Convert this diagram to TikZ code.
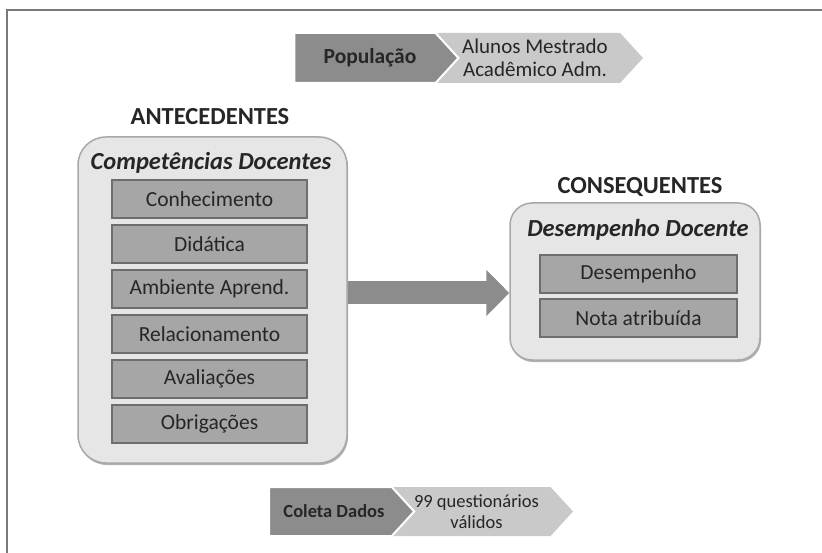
\documentclass[tikz,border=0pt]{standalone}
\usepackage{fontspec}
\setmainfont{Carlito}
\usepackage{tikz}
\usetikzlibrary{shapes.symbols,arrows.meta,shadows}

\definecolor{moldura}{HTML}{7A7A7A}
\definecolor{grupofundo}{HTML}{E6E6E6}
\definecolor{grupoborda}{HTML}{A8A8A8}
\definecolor{itemfundo}{HTML}{A6A6A6}
\definecolor{itemborda}{HTML}{6E6E6E}
\definecolor{escuro}{HTML}{8C8C8C}
\definecolor{claro}{HTML}{C9C9C9}
\definecolor{texto}{HTML}{262626}

\begin{document}
\begin{tikzpicture}[x=1pt,y=-1pt,
  grupo/.style={draw=grupoborda,line width=1.5pt,fill=grupofundo,
    drop shadow={shadow xshift=1pt,shadow yshift=-2pt,opacity=.3,fill=black}},
  item/.style={draw=itemborda,fill=itemfundo,line width=1.5pt,inner sep=0pt,
    minimum height=38pt,text=texto,font=\fontsize{21.5}{24}\selectfont},
  titulo/.style={text=texto,font=\bfseries\fontsize{24.5}{28}\selectfont},
  subtitulo/.style={text=texto,font=\bfseries\itshape\fontsize{24.5}{28}\selectfont},
  chevescuro/.style={shape=signal,signal to=east,signal pointer angle=95,
    fill=escuro,draw=white,line width=2pt,inner sep=0pt},
  chevclaro/.style={shape=signal,signal from=west,signal to=east,signal pointer angle=95,
    fill=claro,inner sep=0pt},
  rotulo/.style={text=texto,align=center,inner sep=0pt}
]

\useasboundingbox (0,0) rectangle (822,553);

% moldura
\draw[moldura,line width=2pt] (7,553) -- (7,10) -- (822,10);

% populacao
\node[chevclaro,minimum width=220pt,minimum height=50pt,
  label={[rotulo,xshift=2pt,font=\fontsize{21}{23}\selectfont]center:Alunos Mestrado\\Acadêmico Adm.}]
  (alunos) at (533,58) {};
\node[chevescuro,minimum width=164pt,minimum height=50pt,
  label={[rotulo,xshift=5pt,font=\bfseries\fontsize{21.5}{23}\selectfont]center:População}]
  (populacao) at (365,58) {};

% antecedentes
\node[titulo] (antecedentes) at (210,117) {ANTECEDENTES};
\node[grupo,rounded corners=28pt,minimum width=269pt,minimum height=326pt] (antec) at (212.5,300) {};
\node[subtitulo] (competencias) at (211,163) {Competências Docentes};
\foreach \nome [count=\i] in {Conhecimento,Didática,Ambiente Aprend.,Relacionamento,Avaliações,Obrigações}
  \node[item,minimum width=195pt] (c\i) at (209.5,154+45*\i) {\nome};

% consequentes
\node[titulo] (consequentes) at (640,187) {CONSEQUENTES};
\node[grupo,rounded corners=22pt,minimum width=250pt,minimum height=157pt] (conseq) at (635,281.5) {};
\node[subtitulo] (desempenhodoc) at (638,230) {Desempenho Docente};
\node[item,minimum width=197pt] (d1) at (638.5,274) {Desempenho};
\node[item,minimum width=197pt] (d2) at (638.5,318) {Nota atribuída};

% seta
\coordinate (seta) at ([yshift=7pt]antec.east);
\draw[escuro,line width=23pt,-{Triangle[length=23pt,width=45pt]}] (seta) -- (seta -| conseq.west);

% coleta
\node[chevclaro,minimum width=193pt,minimum height=49pt,
  label={[rotulo,font=\fontsize{18.5}{21.5}\selectfont]center:99 questionários\\válidos}]
  (questionarios) at (476.5,511.5) {};
\node[chevescuro,minimum width=145pt,minimum height=49pt,
  label={[rotulo,xshift=3.5pt,font=\bfseries\fontsize{18.5}{21}\selectfont]center:Coleta Dados}]
  (coleta) at (330.5,511.5) {};

\end{tikzpicture}
\end{document}
